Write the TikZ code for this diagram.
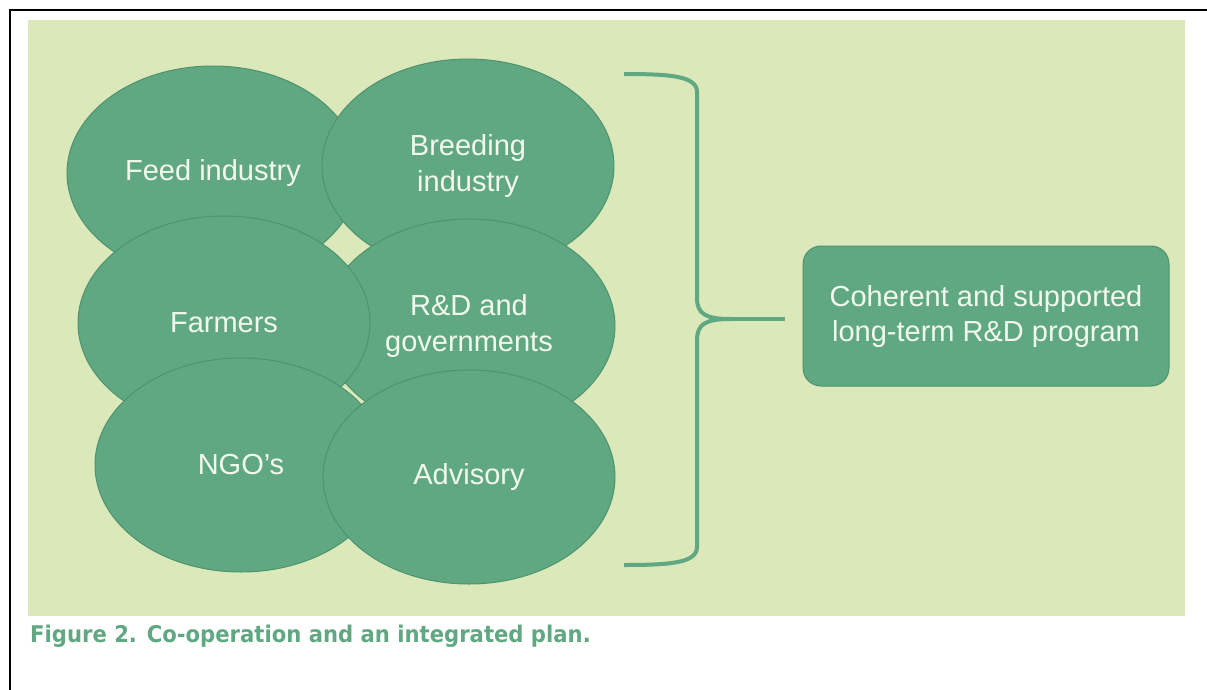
\documentclass[tikz,border=0pt]{standalone}
\usepackage{fontspec}
\setmainfont{Liberation Sans}
\newfontfamily\capfont{DejaVu Sans}[FakeStretch=0.92]
\usepackage{tikz}
\usetikzlibrary{shapes.geometric}
\usepackage{xcolor}
\tikzset{
    member/.style={ellipse, draw=EdgeGreen, fill=LeafGreen, text=SoftWhite, line width=1pt, minimum width=292pt, minimum height=214pt, inner sep=0pt, align=center, font=\fontsize{29}{36}\selectfont},
    progbox/.style={rectangle, draw=EdgeGreen, fill=LeafGreen, text=SoftWhite, line width=1pt, minimum width=366pt, minimum height=140pt, rounded corners=18pt, align=center, font=\fontsize{29}{35}\selectfont},
    brace/.style={draw=LeafGreen, line width=4pt},
    capt/.style={font=\capfont\bfseries\fontsize{23}{27}\selectfont, text=LeafGreen, inner sep=0pt},
}
\definecolor{LeafGreen}{HTML}{5FA882}
\definecolor{EdgeGreen}{HTML}{4E9370}
\definecolor{PanelBg}{HTML}{DBE8B9}
\definecolor{SoftWhite}{HTML}{F2F9EE}

\begin{document}
\begin{tikzpicture}[x=1pt, y=-1pt]
\useasboundingbox (0,0) rectangle (1207,690);

% Frame and panel
\draw[line width=2pt] (10,690) -- (10,10) -- (1207,10);
\fill[PanelBg] (28,20) rectangle (1185,616);

% Stakeholders
\node[member] (feed) at (213,173) {Feed industry};
\node[member] (breed) at (468,166) {Breeding\\industry};
\node[member] (rnd) at (469,326) {R\&D and\\governments};
\node[member] (farm) at (224,323) {Farmers};
\node[member] (ngo) at (241,465) {NGO's};
\node[member] (adv) at (469,477) {Advisory};

% Outcome
\node[progbox] (prog) at (986,316) {Coherent and supported\\long-term R\&D program};

% Brace
\coordinate (br_top) at (624,74);
\coordinate (br_bot) at (624,565);
\coordinate (br_tip) at (730,319);
\draw[brace] (br_top) .. controls (670,74) and (697,76) .. (697,92) -- (697,298)
    .. controls (697,314) and (706,319) .. (br_tip);
\draw[brace] (br_bot) .. controls (670,565) and (697,563) .. (697,547) -- (697,340)
    .. controls (697,324) and (706,319) .. (br_tip);
\draw[brace] (br_tip) -- ([xshift=-18pt]prog.west |- br_tip);

% Caption
\node[capt, anchor=base west] (cap) at (30,642) {Figure 2. Co-operation and an integrated plan.};

\end{tikzpicture}
\end{document}
